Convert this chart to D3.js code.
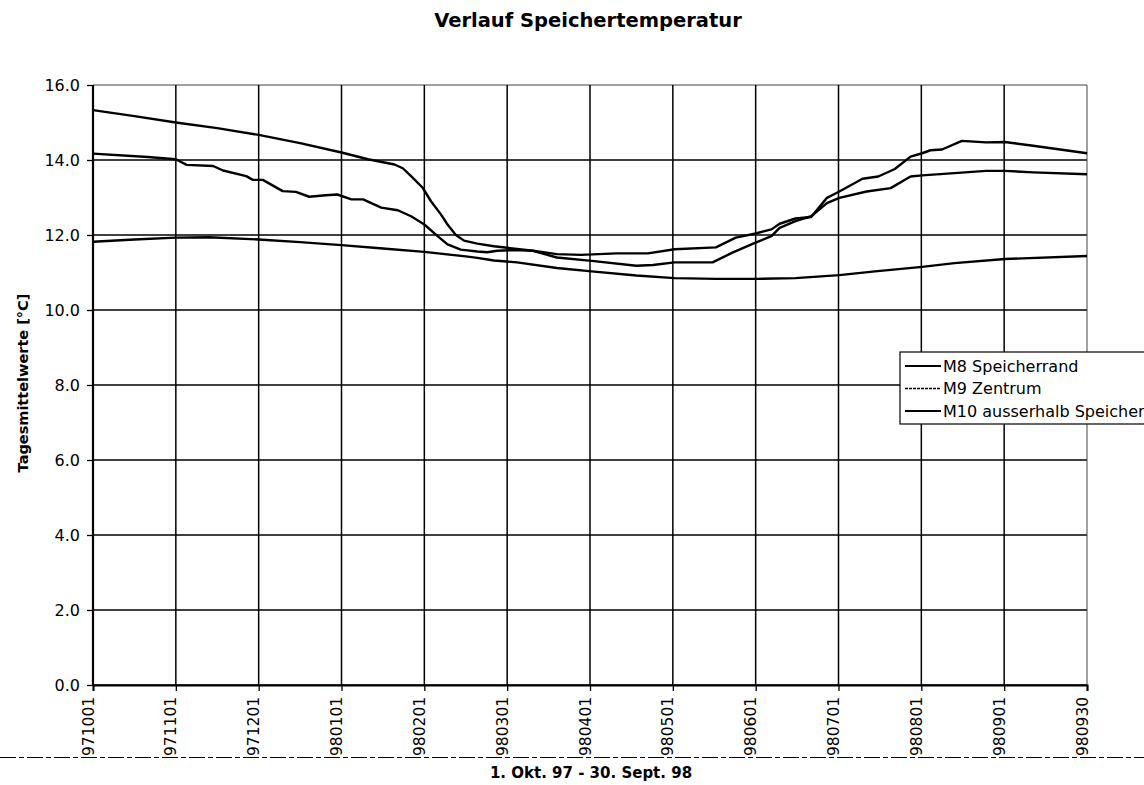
<!DOCTYPE html>
<html>
<head>
<meta charset="utf-8">
<script src="https://cdn.jsdelivr.net/npm/d3@7"></script>
<style>
  html, body { margin: 0; padding: 0; background: #fff; }
  svg { display: block; font-family: "DejaVu Sans", sans-serif; }
</style>
</head>
<body>
<div id="chart"></div>
<script>
// x positions are in month units: 0 = 971001 ... 12 = 980930
const tickLabels = ["971001", "971101", "971201", "980101", "980201", "980301",
  "980401", "980501", "980601", "980701", "980801", "980901", "980930"];
const yTicks = [0, 2, 4, 6, 8, 10, 12, 14, 16];
const seriesNames = ["M8 Speicherrand", "M9 Zentrum", "M10 ausserhalb Speicher"];

const m8Pos = [0, 0.66, 1, 1.13, 1.45, 1.57, 1.85, 1.93, 2.05, 2.29, 2.45, 2.61, 2.81, 2.95,
  3.12, 3.26, 3.48, 3.68, 3.84, 4, 4.16, 4.28, 4.44, 4.64, 4.76, 4.88, 5.1, 5.31, 5.6,
  6.02, 6.56, 6.76, 7.02, 7.48, 7.72, 7.97, 8.19, 8.29, 8.48, 8.67, 8.86, 9.01, 9.34,
  9.63, 9.87, 10.01, 10.4, 10.78, 11.01, 11.35, 12];
const m8Temp = [14.17, 14.08, 14.02, 13.87, 13.84, 13.72, 13.57, 13.47, 13.47, 13.17, 13.15,
  13.02, 13.06, 13.08, 12.95, 12.95, 12.73, 12.66, 12.5, 12.28, 11.97, 11.75, 11.61, 11.56,
  11.54, 11.58, 11.6, 11.58, 11.4, 11.31, 11.18, 11.2, 11.27, 11.27, 11.53, 11.77, 11.97,
  12.19, 12.37, 12.5, 12.85, 12.99, 13.16, 13.25, 13.56, 13.59, 13.65, 13.71, 13.71, 13.67,
  13.62];

const m9Pos = [0, 0.5, 1, 1.5, 2, 2.5, 3, 3.32, 3.64, 3.74, 3.84, 3.98, 4.08, 4.2, 4.28,
  4.38, 4.48, 4.64, 4.84, 5, 5.31, 5.6, 5.89, 6.32, 6.7, 7.02, 7.52, 7.76, 8, 8.19, 8.29,
  8.48, 8.67, 8.86, 9.01, 9.29, 9.48, 9.68, 9.87, 10.01, 10.11, 10.25, 10.49, 10.78, 11.01,
  11.35, 12];
const m9Temp = [15.33, 15.17, 15.0, 14.85, 14.67, 14.45, 14.2, 14.02, 13.88, 13.78, 13.57,
  13.26, 12.9, 12.55, 12.28, 12.0, 11.85, 11.77, 11.7, 11.66, 11.58, 11.49, 11.47, 11.51,
  11.51, 11.62, 11.67, 11.93, 12.04, 12.15, 12.3, 12.44, 12.48, 12.99, 13.16, 13.5, 13.56,
  13.76, 14.09, 14.18, 14.26, 14.28, 14.51, 14.47, 14.48, 14.38, 14.18];

const m10Pos = [0, 0.5, 1, 1.4, 2, 2.5, 3, 3.5, 4, 4.5, 4.64, 4.84, 5.12, 5.6, 6.02, 6.56,
  7.02, 7.52, 8.02, 8.48, 9.01, 9.44, 10.01, 10.4, 11.01, 12];
const m10Temp = [11.82, 11.88, 11.93, 11.94, 11.88, 11.81, 11.73, 11.64, 11.55, 11.43, 11.39,
  11.32, 11.27, 11.12, 11.03, 10.92, 10.85, 10.83, 10.83, 10.85, 10.93, 11.03, 11.15, 11.25,
  11.36, 11.44];

const width = 1144;
const height = 785;
const margin = { top: 85, right: 57, bottom: 100, left: 93 };

function chart() {
  const svg = d3
    .select("#chart")
    .append("svg")
    .attr("width", width)
    .attr("height", height)
    .attr("viewBox", [0, 0, width, height]);

  const x = d3
    .scaleLinear()
    .domain([0, tickLabels.length - 1])
    .range([margin.left, width - margin.right]);

  const y = d3
    .scaleLinear()
    .domain([0, 16])
    .range([height - margin.bottom, margin.top]);

  // grid
  svg
    .append("g")
    .selectAll("line")
    .data(yTicks)
    .join("line")
    .attr("x1", margin.left)
    .attr("x2", width - margin.right)
    .attr("y1", (d) => y(d))
    .attr("y2", (d) => y(d))
    .attr("stroke", (d) => (d === 16 ? "#444" : "#000"))
    .attr("stroke-width", (d) => (d === 16 ? 1 : 1.5));

  svg
    .append("g")
    .selectAll("line")
    .data(d3.range(tickLabels.length))
    .join("line")
    .attr("x1", (d) => x(d))
    .attr("x2", (d) => x(d))
    .attr("y1", y(16))
    .attr("y2", y(0))
    .attr("stroke", (d) => (d === 12 ? "#444" : "#000"))
    .attr("stroke-width", (d) => (d === 0 ? 2.2 : d === 12 ? 1 : 1.5));

  // axes
  svg
    .append("g")
    .attr("transform", `translate(${margin.left},0)`)
    .call(
      d3.axisLeft(y)
        .tickValues(yTicks)
        .tickFormat(d3.format(".1f"))
        .tickSize(6)
        .tickPadding(7)
    )
    .call((g) => g.select(".domain").remove())
    .call((g) => g.selectAll(".tick line").attr("stroke", "#000").attr("stroke-width", 1.3))
    .call((g) =>
      g.selectAll(".tick text")
        .attr("fill", "#000")
        .attr("font-size", 16)
        .attr("font-family", "DejaVu Sans")
    );

  svg
    .append("g")
    .attr("transform", `translate(0,${y(0)})`)
    .call(
      d3.axisBottom(x)
        .tickValues(d3.range(tickLabels.length))
        .tickFormat((i) => tickLabels[i])
        .tickSize(6)
    )
    .call((g) => g.select(".domain").attr("stroke", "#000").attr("stroke-width", 2))
    .call((g) => g.selectAll(".tick line").attr("stroke", "#000").attr("stroke-width", 1.3))
    .call((g) =>
      g.selectAll(".tick text")
        .attr("fill", "#000")
        .attr("font-size", 15.5)
        .attr("font-family", "DejaVu Sans")
        .attr("transform", "rotate(-90)")
        .attr("text-anchor", "start")
        .attr("x", -71)
        .attr("y", 0)
        .attr("dy", "0")
    );

  // series
  const line = d3
    .line()
    .x((d) => x(d[0]))
    .y((d) => y(d[1]));

  const series = [
    d3.zip(m8Pos, m8Temp),
    d3.zip(m9Pos, m9Temp),
    d3.zip(m10Pos, m10Temp),
  ];

  svg
    .append("g")
    .selectAll("path")
    .data(series)
    .join("path")
    .attr("d", line)
    .attr("fill", "none")
    .attr("stroke", "#000")
    .attr("stroke-width", 2.4)
    .attr("stroke-linejoin", "round");

  // dashed rule under the tick labels
  svg
    .append("line")
    .attr("x1", 0)
    .attr("x2", width)
    .attr("y1", 757.5)
    .attr("y2", 757.5)
    .attr("stroke", "#000")
    .attr("stroke-width", 1.2)
    .attr("stroke-dasharray", "16,3,5,3");

  // titles
  svg
    .append("text")
    .attr("x", 588)
    .attr("y", 27)
    .attr("text-anchor", "middle")
    .attr("font-weight", "bold")
    .attr("font-size", 19.5)
    .text("Verlauf Speichertemperatur");

  svg
    .append("text")
    .attr("transform", "translate(28,383) rotate(-90)")
    .attr("text-anchor", "middle")
    .attr("font-weight", "bold")
    .attr("font-size", 14.5)
    .text("Tagesmittelwerte [°C]");

  svg
    .append("text")
    .attr("x", 591)
    .attr("y", 778)
    .attr("text-anchor", "middle")
    .attr("font-weight", "bold")
    .attr("font-size", 15)
    .text("1. Okt. 97 - 30. Sept. 98");

  // legend
  const legend = svg.append("g").attr("transform", "translate(900,352)");
  legend
    .append("rect")
    .attr("x", 0)
    .attr("y", 0)
    .attr("width", 260)
    .attr("height", 72)
    .attr("fill", "#fff")
    .attr("stroke", "#000")
    .attr("stroke-width", 1.2);

  const item = legend
    .selectAll("g.item")
    .data(seriesNames)
    .join("g")
    .attr("class", "item")
    .attr("transform", (d, i) => `translate(0,${14 + i * 22.5})`);

  item
    .append("line")
    .attr("x1", 5)
    .attr("x2", 41)
    .attr("stroke", "#000")
    .attr("stroke-width", (d, i) => (i === 1 ? 1.5 : 2.2))
    .attr("stroke-dasharray", (d, i) => (i === 1 ? "3,1" : null));

  item
    .append("text")
    .attr("x", 43)
    .attr("dy", "0.36em")
    .attr("font-size", 16)
    .text((d) => d);
}

chart();
</script>
</body>
</html>
